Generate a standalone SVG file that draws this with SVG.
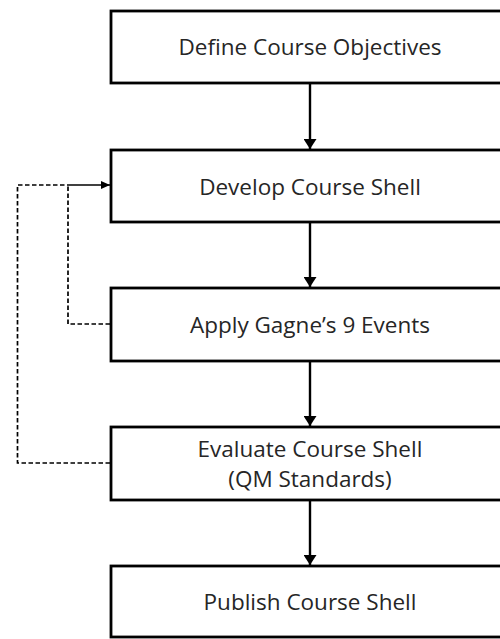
<svg xmlns="http://www.w3.org/2000/svg" width="500" height="639" viewBox="0 0 500 639">
<style>
.box{fill:#fff;stroke:#000;stroke-width:2.8}
.lbl{font-family:"Open Sans","Liberation Sans",sans-serif;font-size:22.5px;fill:#262626;text-anchor:middle}
.flow{fill:none;stroke:#000;stroke-width:2.4}
.dash{fill:none;stroke:#000;stroke-width:1.7;stroke-dasharray:4.5 2.5}
</style>
<defs>
<marker id="ah" markerWidth="10" markerHeight="13" refX="10" refY="6.5" orient="auto" markerUnits="userSpaceOnUse">
<path d="M0,0 L10,6.5 L0,13 Z" fill="#000"/>
</marker>
<marker id="ahs" markerWidth="9" markerHeight="8" refX="9" refY="4" orient="auto" markerUnits="userSpaceOnUse">
<path d="M0,0 L9,4 L0,8 Z" fill="#000"/>
</marker>
</defs>
<g id="connectors">
<line class="flow" x1="310" y1="83" x2="310" y2="149" marker-end="url(#ah)"/>
<line class="flow" x1="310" y1="222" x2="310" y2="287" marker-end="url(#ah)"/>
<line class="flow" x1="310" y1="361" x2="310" y2="426" marker-end="url(#ah)"/>
<line class="flow" x1="310" y1="500" x2="310" y2="565" marker-end="url(#ah)"/>
<path class="dash" d="M110,324 H68 V185"/>
<path class="dash" d="M110,463 H17.5 V185 H68"/>
<line stroke="#000" stroke-width="1.7" x1="68" y1="185" x2="110" y2="185" marker-end="url(#ahs)"/>
</g>
<g id="n1"><rect class="box" x="111" y="11" width="400" height="72"/><text class="lbl" x="310" y="55">Define Course Objectives</text></g>
<g id="n2"><rect class="box" x="111" y="150" width="400" height="72"/><text class="lbl" x="310" y="195">Develop Course Shell</text></g>
<g id="n3"><rect class="box" x="111" y="288" width="400" height="73"/><text class="lbl" x="310" y="333">Apply Gagne’s 9 Events</text></g>
<g id="n4"><rect class="box" x="111" y="427" width="400" height="73"/><text class="lbl" x="310" y="457">Evaluate Course Shell</text><text class="lbl" x="310" y="487">(QM Standards)</text></g>
<g id="n5"><rect class="box" x="111" y="566" width="400" height="71"/><text class="lbl" x="310" y="610">Publish Course Shell</text></g>
</svg>
